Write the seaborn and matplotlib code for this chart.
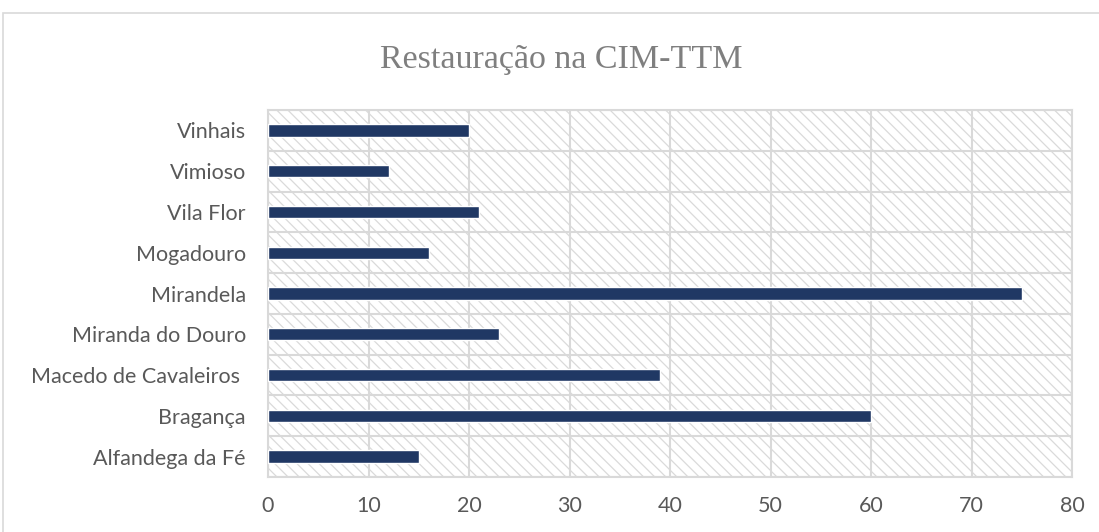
import matplotlib
matplotlib.use("Agg")
import matplotlib.pyplot as plt
import seaborn as sns
import pandas as pd
from matplotlib.patches import Rectangle

categories = ["Vinhais", "Vimioso", "Vila Flor", "Mogadouro", "Mirandela",
              "Miranda do Douro", "Macedo de Cavaleiros ", "Bragança", "Alfandega da Fé"]
values = [20, 12, 21, 16, 75, 23, 39, 60, 15]
xticks = [0, 10, 20, 30, 40, 50, 60, 70, 80]
title = "Restauração na CIM-TTM"

sns.set_theme(style="white")
plt.rcParams['font.family'] = ['Lato', 'DejaVu Sans']
plt.rcParams['hatch.linewidth'] = 0.9
plt.rcParams['hatch.color'] = '#dadada'

df = pd.DataFrame({"cat": categories, "val": values})

fig = plt.figure(figsize=(10.99, 5.32), dpi=100)
ax = fig.add_axes([268/1099, 55/532, 804/1099, 367/532])

# outer chart border
fig.patches.append(Rectangle((3/1099, -0.05), 1.2, (532-13)/532 + 0.05,
                             transform=fig.transFigure, fill=False,
                             edgecolor='#d9d9d9', linewidth=1.2, zorder=0))

ax.patch.set_facecolor('white')
ax.patch.set_hatch('\\\\\\')
ax.patch.set_edgecolor('#dadada')

sns.barplot(data=df, x="val", y="cat", orient="h", color="#203864",
            width=0.3, ax=ax, zorder=3, saturation=1)

ax.set_xlim(0, 80)
ax.set_ylim(len(categories) - 0.5, -0.5)
ax.set_xticks(xticks)
ax.set_xticklabels([str(t) for t in xticks])
ax.set_yticks(range(len(categories)))
ax.set_yticks([i - 0.5 for i in range(len(categories) + 1)], minor=True)
ax.grid(axis='x', which='major', color='#d9d9d9', linewidth=1.5, zorder=1)
ax.grid(axis='y', which='minor', color='#d9d9d9', linewidth=1.5, zorder=1)
ax.grid(axis='y', which='major', visible=False)
ax.set_axisbelow(True)
ax.set_xlabel("")
ax.set_ylabel("")
ax.tick_params(axis='both', which='both', length=0, labelsize=15.5, colors='#595959')
ax.tick_params(axis='x', pad=14)
ax.tick_params(axis='y', pad=16)
for s in ax.spines.values():
    s.set_color('#d9d9d9')
    s.set_linewidth(1.5)

fig.text(561/1099, 1 - 60/532, title, ha='center', va='center',
         fontsize=24.5, color='#7f7f7f', family=['Liberation Serif', 'DejaVu Serif'])

fig.savefig("out.png", dpi=100)
